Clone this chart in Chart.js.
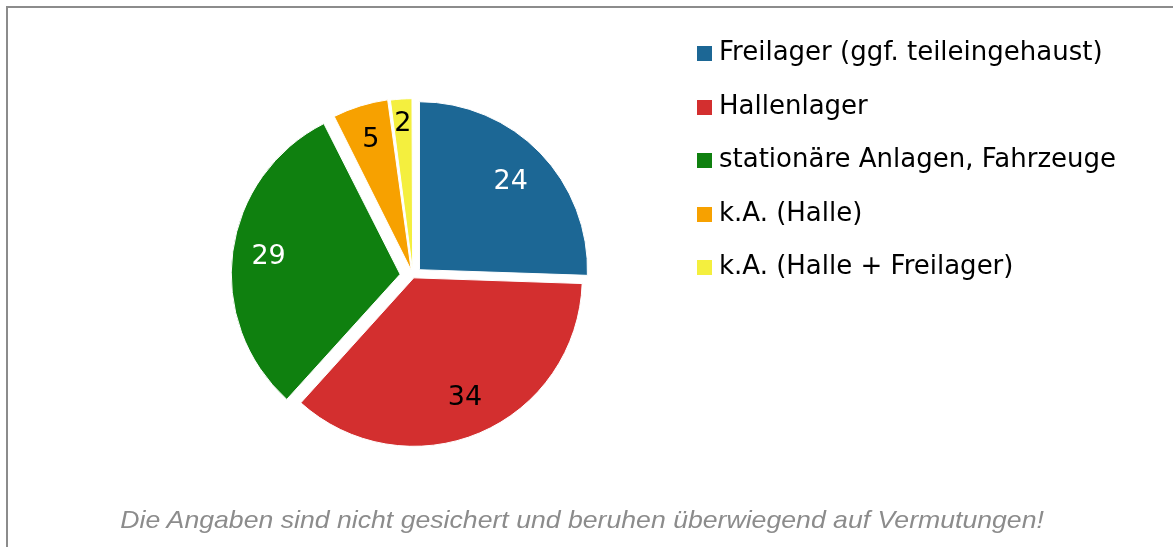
<!DOCTYPE html>
<html>
<head>
<meta charset="utf-8">
<script src="https://cdn.jsdelivr.net/npm/chart.js@4.4.0/dist/chart.umd.min.js"></script>
<style>
  html, body { margin: 0; padding: 0; background: #fff; overflow: hidden; }
  #frame { position: absolute; left: 6px; top: 6px; width: 1200px; height: 600px; border: 2px solid #8c8c8c; box-sizing: border-box; }
  #wrap { position: absolute; left: 0; top: 0; width: 1173px; height: 547px; }
  #note { position: absolute; left: 0; width: 1165px; top: 506px; text-align: center; line-height: 24px;
          font: italic 24px "Liberation Sans", Arial, sans-serif; color: #8c8c8c; }
  #note span { display: inline-block; transform: scaleX(1.11); }
</style>
</head>
<body>
<div id="frame"></div>
<div id="wrap"><canvas id="lagerChart"></canvas></div>
<div id="note"><span>Die Angaben sind nicht gesichert und beruhen überwiegend auf Vermutungen!</span></div>
<script>
var categories = [
    'Freilager (ggf. teileingehaust)',
    'Hallenlager',
    'stationäre Anlagen, Fahrzeuge',
    'k.A. (Halle)',
    'k.A. (Halle + Freilager)'
];
var values = [24, 34, 29, 5, 2];
var sliceColors = ['#1c6795', '#d32f2f', '#0f800f', '#f7a100', '#f4ef3e'];
var labelColors = ['#ffffff', '#000000', '#ffffff', '#000000', '#000000'];
// how far out the value sits, as part of the radius
var labelDepth = [0.755, 0.78, 0.79, 0.81, 0.875];

var legendFont = '26px "DejaVu Sans"';

// small square swatches for the legend
function swatch(color) {
    var c = document.createElement('canvas');
    c.width = 15;
    c.height = 15;
    var g = c.getContext('2d');
    g.fillStyle = color;
    g.fillRect(0, 0, 15, 15);
    return c;
}
var swatches = sliceColors.map(swatch);

// widest legend text, so the legend starts where the picture has it
var probe = document.createElement('canvas').getContext('2d');
probe.font = legendFont;
var widest = Math.max.apply(null, categories.map(function(t) { return probe.measureText(t).width; }));

// draws the value inside each slice
var sliceLabels = {
    id: 'sliceLabels',
    afterDatasetsDraw: function(chart) {
        var ctx = chart.ctx;
        var meta = chart.getDatasetMeta(0);
        ctx.save();
        ctx.font = '27px "DejaVu Sans"';
        ctx.textAlign = 'center';
        ctx.textBaseline = 'middle';
        meta.data.forEach(function(arc, i) {
            var p = arc.getProps(['x', 'y', 'startAngle', 'endAngle', 'outerRadius']);
            var mid = (p.startAngle + p.endAngle) / 2;
            var r = p.outerRadius * labelDepth[i] + (arc.options.offset || 0) / 4;
            ctx.fillStyle = labelColors[i];
            ctx.fillText(values[i], p.x + Math.cos(mid) * r, p.y + Math.sin(mid) * r);
        });
        ctx.restore();
    }
};

var chart = new Chart(document.getElementById('lagerChart'), {
    type: 'pie',
    data: {
        labels: categories,
        datasets: [{
            data: values,
            backgroundColor: sliceColors,
            borderColor: '#ffffff',
            borderWidth: 1,
            offset: [36, 8, 52, 24, 20],
            radius: 168
        }]
    },
    options: {
        responsive: true,
        maintainAspectRatio: false,
        animation: false,
        layout: { padding: { left: 150.5, top: 13, bottom: 8, right: 444 - widest } },
        plugins: {
            legend: {
                position: 'right',
                align: 'start',
                labels: {
                    usePointStyle: true,
                    pointStyleWidth: 3,
                    boxHeight: 15,
                    padding: 27.5,
                    color: '#000000',
                    font: { family: '"DejaVu Sans"', size: 26 },
                    generateLabels: function(chart) {
                        var items = Chart.overrides.pie.plugins.legend.labels.generateLabels(chart);
                        items.forEach(function(item, i) { item.pointStyle = swatches[i]; });
                        return items;
                    }
                }
            },
            tooltip: { enabled: false }
        }
    },
    plugins: [sliceLabels]
});
</script>
</body>
</html>
